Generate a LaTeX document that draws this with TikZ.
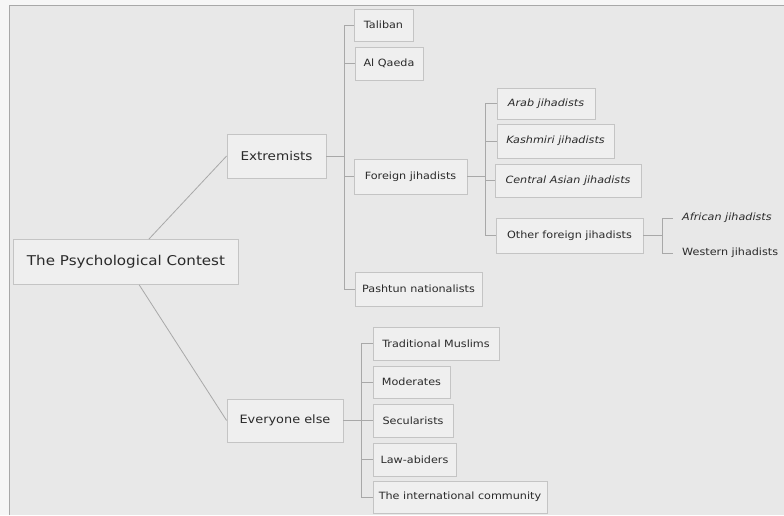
\documentclass[tikz,border=0pt]{standalone}
\usepackage{fontspec}
\setmainfont[FakeStretch=1.12]{DejaVu Sans}
\definecolor{bgc}{HTML}{E8E8E8}
\definecolor{boxfill}{HTML}{EFEFEF}
\definecolor{boxline}{HTML}{C4C4C4}
\definecolor{linec}{HTML}{A8A8A8}
\definecolor{txt}{HTML}{2A2A2A}
\begin{document}
\begin{tikzpicture}[x=1pt,y=-1pt,
  box/.style={draw=boxline,fill=boxfill,line width=0.8pt,inner sep=0pt,text=txt,font=\fontsize{10}{12}\selectfont},
  plain/.style={inner sep=0pt,text=txt,anchor=west,font=\fontsize{10}{12}\selectfont\itshape},
  conn/.style={draw=linec,line width=0.8pt}]
\useasboundingbox (0,0) rectangle (784,515);
\fill[bgc] (0,0) rectangle (784,515);
\fill[white!60!bgc] (0,0) rectangle (9,515);
\fill[white!60!bgc] (0,0) rectangle (784,5);
\draw[linec,line width=0.9pt] (9.5,515) -- (9.5,5) -- (784,5);

% nodes
\node[box,minimum width=225,minimum height=45,font=\fontsize{13.5}{16}\selectfont] (root) at (126,262) {The Psychological Contest};
\node[box,minimum width=99,minimum height=44,font=\fontsize{12.1}{14}\selectfont] (ext) at (276.5,156) {Extremists};
\node[box,minimum width=116,minimum height=43,font=\fontsize{11.5}{14}\selectfont] (evr) at (285,420.5) {Everyone else};

\node[box,minimum width=59,minimum height=32] (tal) at (383.5,25) {Taliban};
\node[box,minimum width=68,minimum height=33] (alq) at (389,63.5) {Al Qaeda};
\node[box,minimum width=113,minimum height=35] (for) at (410.5,176.5) {Foreign jihadists};
\node[box,minimum width=127,minimum height=34] (pas) at (418.5,289) {Pashtun nationalists};

\node[box,minimum width=98,minimum height=31,font=\fontsize{10}{12}\selectfont\itshape] (arab) at (546,103.5) {Arab jihadists};
\node[box,minimum width=117,minimum height=34,font=\fontsize{10}{12}\selectfont\itshape] (kash) at (555.5,141) {Kashmiri jihadists};
\node[box,minimum width=146,minimum height=33,font=\fontsize{10}{12}\selectfont\itshape] (cent) at (568,180.5) {Central Asian jihadists};
\node[box,minimum width=147,minimum height=35] (oth) at (569.5,235.5) {Other foreign jihadists};

\node[plain] (afr) at (682,218) {African jihadists};
\node[plain,font=\fontsize{10}{12}\selectfont] (wes) at (682,253) {Western jihadists};

\node[box,minimum width=126,minimum height=33] (trad) at (436,343.5) {Traditional Muslims};
\node[box,minimum width=77,minimum height=32] (mod) at (411.5,382) {Moderates};
\node[box,minimum width=80,minimum height=33] (sec) at (413,420.5) {Secularists};
\node[box,minimum width=83,minimum height=33] (law) at (414.5,459.5) {Law-abiders};
\node[box,minimum width=174,minimum height=32] (intl) at (460,497) {The international community};

% connectors
\draw[conn] (root.45) -- (ext.west);
\draw[conn] (root.-60) -- (evr.west);

\coordinate (j1) at (344,156);
\draw[conn] (ext.east) -- (j1);
\draw[conn] (j1 |- tal.west) -- (j1 |- pas.west);
\foreach \n in {tal,alq,for,pas} \draw[conn] (j1 |- \n.west) -- (\n.west);

\coordinate (j2) at (485,176.5);
\draw[conn] (for.east) -- (j2);
\draw[conn] (j2 |- arab.west) -- (j2 |- oth.west);
\foreach \n in {arab,kash,cent,oth} \draw[conn] (j2 |- \n.west) -- (\n.west);

\coordinate (j3) at (662,235.5);
\draw[conn] (oth.east) -- (j3);
\draw[conn] (j3 |- afr.west) -- (j3 |- wes.west);
\draw[conn] (j3 |- afr.west) -- ([xshift=-9pt]afr.west);
\draw[conn] (j3 |- wes.west) -- ([xshift=-9pt]wes.west);

\coordinate (j4) at (361,420.5);
\draw[conn] (evr.east) -- (j4);
\draw[conn] (j4 |- trad.west) -- (j4 |- intl.west);
\foreach \n in {trad,mod,sec,law,intl} \draw[conn] (j4 |- \n.west) -- (\n.west);
\end{tikzpicture}
\end{document}
